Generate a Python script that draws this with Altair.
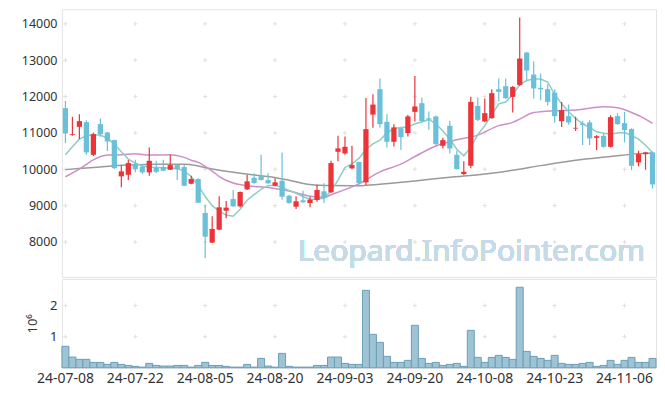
import altair as alt
import pandas as pd

# ---------------- data ----------------
holidays = ["2024-08-15", "2024-09-16", "2024-09-17", "2024-09-18",
            "2024-10-01", "2024-10-03", "2024-10-09"]
dates = [d.strftime("%y-%m-%d") for d in pd.bdate_range("2024-07-08", "2024-11-12")
         if d.strftime("%Y-%m-%d") not in holidays]

label_dates = ["24-07-08", "24-07-22", "24-08-05", "24-08-20", "24-09-03",
               "24-09-20", "24-10-08", "24-10-23", "24-11-06"]
price_ticks = [8000, 9000, 10000, 11000, 12000, 13000, 14000]
vol_ticks = [1, 2]

open_ = [11681, 10950, 11167, 11296, 10398, 11241, 11013, 10802, 9805, 9849,
         10151, 10069, 9915, 10041, 10060, 9986, 10115, 10060, 9602, 9731,
         8797, 7982, 8339, 8860, 9182, 8981, 9448, 9767, 9805, 9703,
         9547, 9684, 9272, 8970, 9146, 9072, 9154, 9393, 9366, 10481,
         10437, 10025, 10200, 9640, 11504, 12202, 11304, 10755, 11131, 10994,
         11579, 11818, 11400, 11453, 10645, 11194, 10398, 9868, 10096, 11744,
         11315, 11406, 12202, 12285, 11991, 12320, 13210, 12606, 12240, 12202,
         12108, 11323, 11461, 11120, 11260, 11288, 10865, 10920, 10618, 11461,
         11269, 11104, 10190, 10417, 10464]
high = [11881, 11442, 11516, 11351, 11008, 11398, 11022, 10810, 10096, 10253,
        10261, 10143, 10601, 10233, 10261, 10398, 10130, 10115, 9822, 9750,
        9017, 8707, 9256, 9127, 9429, 9390, 9841, 9887, 10398, 9887,
        9750, 10464, 9300, 9256, 9410, 9245, 9575, 9613, 10233, 10920,
        10903, 10645, 10210, 11963, 12065, 12496, 11516, 11241, 11150, 11497,
        12567, 11974, 11590, 11480, 10865, 11331, 10508, 10217, 11991, 11974,
        11947, 12202, 12496, 12496, 12293, 14171, 13230, 12963, 12632, 12340,
        12202, 11853, 11782, 11442, 11332, 11351, 10940, 10994, 11488, 11543,
        11579, 11130, 10508, 10480, 10480]
low = [10720, 10920, 10829, 10398, 10362, 10892, 10500, 10005, 9503, 9703,
       9915, 9868, 9822, 9900, 9950, 9980, 9703, 9530, 9590, 9070,
       7553, 7970, 8320, 8652, 8960, 8950, 9430, 9600, 9690, 9600,
       9530, 9163, 9050, 8907, 9080, 8954, 9108, 9072, 9350, 10217,
       10400, 10000, 9590, 9566, 11139, 11150, 10601, 10629, 10527, 10903,
       11315, 11300, 11090, 10665, 10574, 10433, 9990, 9841, 10025, 11330,
       11290, 11390, 11865, 11930, 11562, 12290, 12430, 11947, 11900, 11757,
       11276, 11159, 11222, 11049, 10665, 10665, 10527, 10590, 10600, 11220,
       10739, 9980, 10080, 9986, 9472]
close = [10986, 10970, 11324, 10464, 10967, 10967, 10766, 10033, 9942, 10170,
         10005, 9915, 10233, 9931, 9960, 10115, 9997, 9547, 9731, 9080,
         8146, 8358, 8954, 8943, 8981, 9374, 9668, 9621, 9703, 9613,
         9640, 9245, 9072, 9119, 9091, 9163, 9429, 9209, 10170, 10574,
         10618, 10115, 9621, 11104, 11779, 11241, 10755, 11151, 10884, 11453,
         11727, 11324, 11370, 10692, 10802, 10571, 10005, 9931, 11853, 11359,
         11543, 12092, 12128, 11955, 12265, 13045, 12716, 12222, 12200, 11853,
         11460, 11625, 11288, 11140, 11220, 10849, 10910, 10618, 11433, 11241,
         11077, 10096, 10417, 10464, 9582]
volume = [0.69, 0.344, 0.27, 0.27, 0.172, 0.172, 0.108, 0.172, 0.108, 0.075,
          0.043, 0.02, 0.14, 0.075, 0.054, 0.054, 0.075, 0.075, 0.02, 0.075,
          0.172, 0.075, 0.075, 0.043, 0.02, 0.02, 0.108, 0.02, 0.30, 0.054,
          0.02, 0.462, 0.043, 0.02, 0.02, 0.02, 0.075, 0.075, 0.344, 0.344,
          0.14, 0.108, 0.108, 2.49, 1.075, 0.817, 0.366, 0.172, 0.172, 0.237,
          1.366, 0.30, 0.14, 0.172, 0.075, 0.108, 0.14, 0.043, 1.204, 0.333,
          0.172, 0.333, 0.398, 0.333, 0.269, 2.59, 0.527, 0.366, 0.30, 0.237,
          0.398, 0.14, 0.108, 0.108, 0.14, 0.172, 0.043, 0.075, 0.237, 0.108,
          0.237, 0.333, 0.172, 0.172, 0.30]

ma5 = [10398, 10620, 10829, 10920, 10950, 10940, 10850, 10692, 10480, 10280,
       10170, 10090, 10060, 10050, 10041, 10030, 10020, 9950, 9800, 9560,
       9250, 9000, 8850, 8740, 8710, 8900, 9150, 9300, 9450, 9550,
       9560, 9500, 9420, 9340, 9250, 9170, 9180, 9200, 9400, 9700,
       10050, 10150, 10300, 10550, 10700, 10800, 11000, 11120, 11150, 11160,
       11250, 11300, 11370, 11250, 11050, 10830, 10550, 10370, 10600, 10950,
       11200, 11500, 11800, 11850, 12050, 12330, 12440, 12480, 12480, 12400,
       12060, 11800, 11580, 11400, 11250, 11150, 11030, 10990, 10970, 11000,
       11010, 10930, 10830, 10660, 10460]

ma20_idx = [0, 2, 4, 6, 8, 10, 12, 15, 17, 18, 19, 20, 21, 22, 24, 26, 29, 32, 35, 37,
            38, 40, 42, 45, 48, 50, 53, 56, 59, 62, 64, 65, 67, 70, 73, 77, 79, 81, 83, 84]
ma20_val = [9794, 10005, 10260, 10390, 10400, 10426, 10390, 10398, 10327, 10250, 10190, 10080,
            9950, 9800, 9621, 9547, 9500, 9400, 9260, 9230, 9300, 9440, 9600, 9930, 10143,
            10350, 10640, 10810, 10940, 11200, 11290, 11380, 11560, 11610, 11630, 11716,
            11690, 11560, 11380, 11260]

ma60_idx = [0, 4, 8, 13, 17, 19, 21, 24, 27, 29, 32, 35, 38, 41, 45, 50, 55, 60, 64, 68,
            73, 78, 82, 84]
ma60_val = [9990, 10050, 10110, 10135, 10140, 10090, 10005, 9915, 9840, 9800, 9700, 9580,
            9550, 9545, 9590, 9680, 9780, 9870, 9970, 10100, 10250, 10350, 10430, 10450]

# ---------------- tables ----------------
candles = pd.DataFrame({"date": dates, "open": open_, "high": high,
                        "low": low, "close": close, "volume": volume})
ma5_df = pd.DataFrame({"date": dates, "v": ma5})
ma20_df = pd.DataFrame({"date": [dates[i] for i in ma20_idx], "v": ma20_val})
ma60_df = pd.DataFrame({"date": [dates[i] for i in ma60_idx], "v": ma60_val})
grid_price = pd.DataFrame([(d, t) for d in label_dates for t in price_ticks], columns=["date", "v"])
grid_vol = pd.DataFrame([(d, t) for d in label_dates for t in vol_ticks], columns=["date", "v"])

UP = "#ec3338"
DOWN = "#6bc0d9"
FONT = "Noto Sans"
W = 595

x_price = alt.X("date:O", scale=alt.Scale(domain=dates, paddingInner=0.25, paddingOuter=0.125), axis=None)
y_scale = alt.Scale(domain=[7040, 14400], nice=False, zero=False)
y_axis = alt.Axis(values=price_ticks, format="d", grid=False, ticks=False, domain=False,
                  title=None, labelFontSize=12.5, labelColor="#333333", labelPadding=5, labelFont=FONT)

def yp(field):
    return alt.Y(field, type="quantitative", scale=y_scale, axis=y_axis)

cross = "M-1,0L1,0M0,-1L0,1"
grid1 = alt.Chart(grid_price).mark_point(shape=cross, size=18, filled=False, color="#e0e0e0",
                                         strokeWidth=1, opacity=1).encode(x=x_price, y=yp("v"))
l60 = alt.Chart(ma60_df).mark_line(color="#9a9a9a", strokeWidth=1.5, interpolate="monotone").encode(x=x_price, y=yp("v"))
l20 = alt.Chart(ma20_df).mark_line(color="#cc90c8", strokeWidth=1.5, interpolate="monotone").encode(x=x_price, y=yp("v"))
l5 = alt.Chart(ma5_df).mark_line(color="#8dcdc2", strokeWidth=1.5).encode(x=x_price, y=yp("v"))
col = alt.condition("datum.close >= datum.open", alt.value(UP), alt.value(DOWN))
wicks = alt.Chart(candles).mark_rule(strokeWidth=1.2).encode(
    x=x_price, y=yp("low"), y2="high:Q", color=col)
bodies = alt.Chart(candles).mark_bar(minBandSize=1).encode(
    x=x_price, y=yp("open"), y2="close:Q", color=col)
watermark = alt.Chart(candles).mark_text(
    text="Leopard.InfoPointer.com", align="right", baseline="middle",
    font=FONT, fontSize=30, color="#c6dbe7").encode(x=alt.value(W - 11), y=alt.value(243))

price_panel = alt.layer(grid1, l60, l20, l5, wicks, bodies, watermark).properties(width=W, height=268)

x_vol = alt.X("date:O", scale=alt.Scale(domain=dates, paddingInner=0, paddingOuter=0),
              axis=alt.Axis(values=label_dates, labelAngle=0, ticks=False, domain=False, grid=False,
                            title=None, labelFontSize=14, labelColor="#333333", labelFont=FONT,
                            labelPadding=4))
yv_scale = alt.Scale(domain=[0, 2.86], nice=False)
yv_axis = alt.Axis(values=vol_ticks, grid=False, ticks=False, domain=False, title="10⁶",
                   titleFontSize=13, titleFontWeight="normal", titleColor="#333333", titleFont=FONT,
                   titlePadding=10, labelFontSize=13, labelColor="#333333", labelFont=FONT, labelPadding=5)
grid2 = alt.Chart(grid_vol).mark_point(shape=cross, size=18, filled=False, color="#e0e0e0",
                                       strokeWidth=1, opacity=1).encode(
    x=x_vol, y=alt.Y("v:Q", scale=yv_scale, axis=yv_axis))
vbars = alt.Chart(candles).mark_bar(color="#9dc3d4", stroke="#6b9fb7", strokeWidth=1).encode(
    x=x_vol, y=alt.Y("volume:Q", scale=yv_scale, axis=yv_axis))
vol_panel = alt.layer(grid2, vbars).properties(width=W, height=89)

chart = alt.vconcat(price_panel, vol_panel, spacing=0).properties(
    padding={"left": 12, "top": 0, "right": 0, "bottom": 0}
).configure_view(stroke="#e4e4e4")

chart.save("out.html", embed_options={"renderer": "svg", "actions": False})
